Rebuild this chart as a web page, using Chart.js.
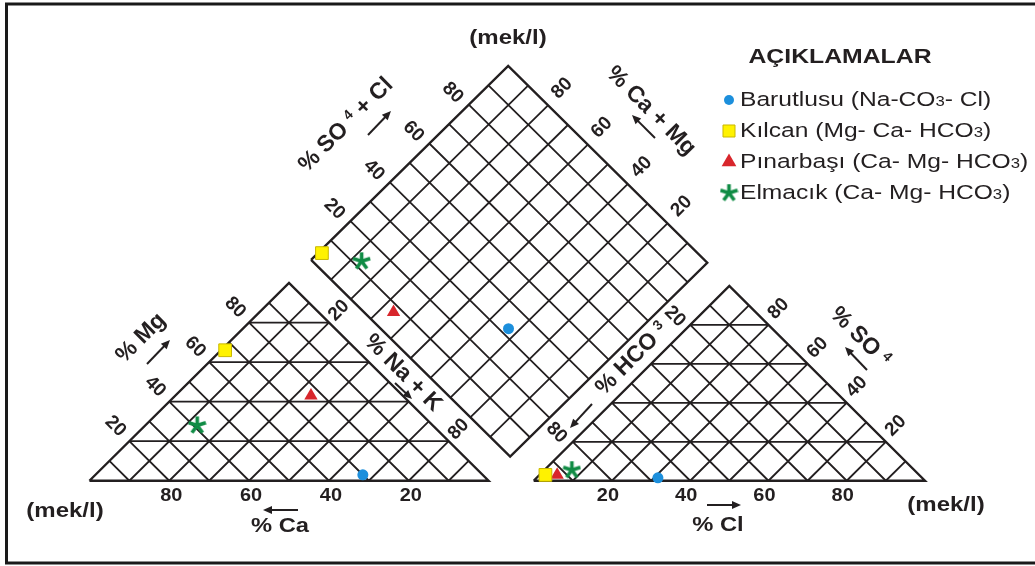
<!DOCTYPE html>
<html>
<head>
<meta charset="utf-8">
<script src="https://cdn.jsdelivr.net/npm/chart.js@4.4.1/dist/chart.umd.min.js"></script>
<style>
  html, body { margin: 0; padding: 0; background: #fff; }
  canvas { display: block; }
</style>
</head>
<body>
<canvas id="piper" width="1035" height="566"></canvas>
<script>
// Piper diagram - sample compositions (% of meq/l)
const samples = ['Barutlusu', 'Kılcan', 'Pınarbaşı', 'Elmacık'];
const waterTypes = ['(Na-CO3- Cl)', '(Mg- Ca- HCO3)', '(Ca- Mg- HCO3)', '(Ca- Mg- HCO3)'];
const caPct = [30, 33, 23, 59];
const mgPct = [3, 66, 43, 28];
const naKPct = [67, 1, 34, 13];
const hco3Pct = [67.5, 95.5, 92.5, 87.5];
const so4Pct = [1.5, 3, 3, 5.5];
const clPct = [31, 1.5, 4.5, 7];
const tickValues = [20, 40, 60, 80];
const sparseTicks = [20, 80];   // Na+K and HCO3 sides only carry the end labels

const ink = '#231f20';
const colors = ['#1c8fdc', '#fff200', '#d8262c', '#108c45'];
const font = "'Liberation Sans', Arial, sans-serif";

// layout of the three fields (pixel units = data units here)
const cation = { x0: 81, x1: 488, base: 488, apex: 283 };
const anion = { x0: 534, x1: 933, base: 488, apex: 286 };
const diamond = { left: [307, 259], top: [508, 58], bottom: [510, 463] };

// a = share that pushes right (Na+K / Cl), b = share that pushes up (Mg / SO4)
function triPt(t, a, b) {
    const w = t.x1 - t.x0, h = t.base - t.apex;
    return { x: t.x0 + w * (a + b / 2) / 100, y: t.base - h * b / 100 };
}
function diaPt(na, sc) {
    const L = diamond.left, T = diamond.top, B = diamond.bottom;
    return {
        x: L[0] + (B[0] - L[0]) * na / 100 + (T[0] - L[0]) * sc / 100,
        y: L[1] + (B[1] - L[1]) * na / 100 + (T[1] - L[1]) * sc / 100
    };
}
const gap = () => ({ x: null, y: null });

function triOutline(t) {
    return [triPt(t, 0, 0), triPt(t, 100, 0), triPt(t, 0, 100), triPt(t, 0, 0)];
}
function triGrid(t) {
    const pts = [];
    for (let i = 10; i < 100; i += 10) {
        pts.push(triPt(t, i, 0), triPt(t, i, 100 - i), gap());
        pts.push(triPt(t, 100 - i, 0), triPt(t, 0, 100 - i), gap());
        if (i % 20 === 0) pts.push(triPt(t, 0, i), triPt(t, 100 - i, i), gap());
    }
    return pts;
}
function diaGrid() {
    const pts = [];
    for (let i = 10; i < 100; i += 10) {
        pts.push(diaPt(i, 0), diaPt(i, 100), gap());
        pts.push(diaPt(0, i), diaPt(100, i), gap());
    }
    return pts;
}
function diaOutline() {
    return [diaPt(0, 0), diaPt(100, 0), diaPt(100, 100), diaPt(0, 100), diaPt(0, 0)];
}

function makeStar(size, color) {
    const c = document.createElement('canvas');
    c.width = size; c.height = size;
    const g = c.getContext('2d');
    g.strokeStyle = color;
    g.lineWidth = size * 0.19;
    const r = size / 2;
    for (let k = 0; k < 5; k++) {
        const a = -Math.PI / 2 + k * 2 * Math.PI / 5;
        g.beginPath();
        g.moveTo(r, r);
        g.lineTo(r + Math.cos(a) * r * 0.95, r + Math.sin(a) * r * 0.95);
        g.stroke();
    }
    return c;
}
const starImg = makeStar(19, colors[3]);

const markerStyles = [
    { pointStyle: 'circle', pointRadius: 5.5, backgroundColor: colors[0], borderColor: colors[0], borderWidth: 0 },
    { pointStyle: 'rect', pointRadius: 9, backgroundColor: colors[1], borderColor: '#c9b800', borderWidth: 1 },
    { pointStyle: 'triangle', pointRadius: 7.7, backgroundColor: colors[2], borderColor: colors[2], borderWidth: 0 },
    { pointStyle: starImg, pointRadius: 9, backgroundColor: colors[3], borderColor: colors[3], borderWidth: 0 }
];

const sampleSets = samples.map((name, i) => ({
    label: name,
    data: [
        triPt(cation, naKPct[i], mgPct[i]),
        triPt(anion, clPct[i], so4Pct[i]),
        diaPt(naKPct[i], so4Pct[i] + clPct[i])
    ],
    showLine: false,
    order: 0,
    ...markerStyles[i]
}));

function lineSet(data, width) {
    return { data, showLine: true, borderColor: ink, borderWidth: width, pointRadius: 0, spanGaps: false, order: 5, fill: false };
}

// ---- text helpers ----
function drawRich(ctx, segs, x, y, rot, size, sx) {
    ctx.save();
    ctx.translate(x, y);
    ctx.rotate(rot * Math.PI / 180);
    ctx.scale(sx || 1, 1);
    let w = 0;
    segs.forEach(s => {
        ctx.font = (s.bold === false ? '' : 'bold ') + (size * (s.k || 1)) + 'px ' + font;
        s.w = ctx.measureText(s.t).width;
        w += s.w;
    });
    let cx = -w / 2;
    ctx.fillStyle = ink;
    ctx.textBaseline = 'middle';
    ctx.textAlign = 'left';
    segs.forEach(s => {
        ctx.font = (s.bold === false ? '' : 'bold ') + (size * (s.k || 1)) + 'px ' + font;
        ctx.fillText(s.t, cx, s.dy || 0);
        cx += s.w;
    });
    ctx.restore();
}
function txt(ctx, t, x, y, rot, size, sx) {
    drawRich(ctx, [{ t }], x, y, rot, size, sx);
}
function arrow(ctx, x1, y1, x2, y2) {
    const a = Math.atan2(y2 - y1, x2 - x1);
    const hl = 9, hw = 4;
    ctx.save();
    ctx.strokeStyle = ink; ctx.fillStyle = ink; ctx.lineWidth = 2;
    ctx.beginPath();
    ctx.moveTo(x1, y1);
    ctx.lineTo(x2 - Math.cos(a) * hl * 0.8, y2 - Math.sin(a) * hl * 0.8);
    ctx.stroke();
    ctx.beginPath();
    ctx.moveTo(x2, y2);
    ctx.lineTo(x2 - Math.cos(a) * hl - Math.sin(a) * hw, y2 - Math.sin(a) * hl + Math.cos(a) * hw);
    ctx.lineTo(x2 - Math.cos(a) * hl + Math.sin(a) * hw, y2 - Math.sin(a) * hl - Math.cos(a) * hw);
    ctx.closePath();
    ctx.fill();
    ctx.restore();
}

const decor = {
    id: 'decor',
    beforeDatasetsDraw(chart) {
        const ctx = chart.ctx;
        ctx.save();
        ctx.strokeStyle = '#1a1a1a';
        ctx.lineWidth = 3;
        ctx.beginPath();
        ctx.moveTo(1040, 4);
        ctx.lineTo(6.5, 4);
        ctx.lineTo(6.5, 563);
        ctx.lineTo(1040, 563);
        ctx.stroke();
        ctx.restore();
    },
    afterDatasetsDraw(chart) {
        const ctx = chart.ctx;
        const xs = chart.scales.x, ys = chart.scales.y;
        const px = p => ({ x: xs.getPixelForValue(p.x), y: ys.getPixelForValue(p.y) });
        const T = 19;

        tickValues.forEach(v => {
            let p = px(triPt(cation, 100 - v, 0));
            txt(ctx, String(v), p.x + 2, p.y + 15, 0, T, 1.05);
            p = px(triPt(cation, 0, v));
            txt(ctx, String(v), p.x - 14, p.y - 15, 45, T, 1);
            p = px(triPt(anion, v, 0));
            txt(ctx, String(v), p.x - 4, p.y + 15, 0, T, 1.05);
            p = px(triPt(anion, 100 - v, v));
            txt(ctx, String(v), p.x + 10, p.y - 16, -45, T, 1);
            p = px(diaPt(0, v));
            txt(ctx, String(v), p.x - 16, p.y - 12, 45, T, 1);
            p = px(diaPt(100 - v, 100));
            txt(ctx, String(v), p.x + 14, p.y - 17, -45, T, 1);
        });
        sparseTicks.forEach(v => {
            let p = px(triPt(cation, v, 100 - v));
            txt(ctx, String(v), p.x + 10, p.y - 12, -45, T, 1);
            p = px(diaPt(100, 100 - v));
            txt(ctx, String(v), p.x + 7, p.y + 15, 45, T, 1);
        });

        const A = 23;
        txt(ctx, '(mek/l)', 508, 38, 0, 20, 1.2);
        txt(ctx, '(mek/l)', 65, 511, 0, 20, 1.2);
        txt(ctx, '(mek/l)', 946, 505, 0, 20, 1.2);

        txt(ctx, '% Mg', 141, 338, -45, A, 1);
        arrow(ctx, 147, 364, 170, 340);
        txt(ctx, '% Ca', 280, 526, 0, 21, 1.13);
        arrow(ctx, 298, 510, 263, 510);
        txt(ctx, '% Na + K', 403, 373, 45, A, 1);
        arrow(ctx, 395, 383, 412, 399);

        drawRich(ctx, [{ t: '% SO ' }, { t: '4', k: 0.6, dy: -5 }, { t: ' + Cl' }], 346, 125, -45, A, 1);
        arrow(ctx, 368, 135, 391, 111);
        drawRich(ctx, [{ t: '% Ca + Mg' }], 651, 111, 45, A, 1);
        arrow(ctx, 655, 138, 632, 115);
        drawRich(ctx, [{ t: '% HCO ' }, { t: '3', k: 0.6, dy: -5 }], 632, 359, -45, A, 1);
        arrow(ctx, 592, 404, 570, 428);
        drawRich(ctx, [{ t: '% SO ' }, { t: '4', k: 0.6, dy: -5 }], 860, 337, 45, A, 1);
        arrow(ctx, 867, 370, 845, 347);
        txt(ctx, '% Cl', 718, 525, 0, 21, 1.13);
        arrow(ctx, 707, 505, 741, 505);

        // legend
        txt(ctx, 'AÇIKLAMALAR', 840, 57, 0, 21, 1.18);
        const rowY = [100, 131, 162, 193];
        samples.forEach((name, i) => {
            const st = markerStyles[i];
            ctx.save();
            ctx.fillStyle = st.backgroundColor;
            ctx.strokeStyle = st.borderColor;
            ctx.lineWidth = st.borderWidth;
            const r = i === 0 ? 5 : i === 1 ? 8.5 : i === 2 ? 8.5 : 9.5;
            Chart.helpers.drawPoint(ctx, { pointStyle: st.pointStyle, radius: r, rotation: 0, borderWidth: st.borderWidth }, 729, rowY[i]);
            ctx.restore();
            const segs = [{ t: name + ' ', bold: false }];
            waterTypes[i].split(/(\d)/).forEach(part => {
                if (!part) return;
                if (/^\d$/.test(part)) segs.push({ t: part, bold: false, k: 0.68, dy: 2 });
                else segs.push({ t: part, bold: false });
            });
            ctx.save();
            let w = 0;
            segs.forEach(s => { ctx.font = (20.5 * (s.k || 1)) + 'px ' + font; w += ctx.measureText(s.t).width; });
            ctx.restore();
            drawRich(ctx, segs, 740 + w * 1.2 / 2, rowY[i], 0, 20.5, 1.2);
        });
    }
};

new Chart(document.getElementById('piper'), {
    type: 'scatter',
    data: {
        datasets: [
            ...sampleSets,
            lineSet(triGrid(cation), 1.8),
            lineSet(triGrid(anion), 1.8),
            lineSet(diaGrid(), 1.8),
            lineSet(triOutline(cation), 2.4),
            lineSet(triOutline(anion), 2.4),
            lineSet(diaOutline(), 2.4)
        ]
    },
    options: {
        responsive: false,
        devicePixelRatio: 1,
        animation: false,
        events: [],
        layout: { padding: 0 },
        plugins: { legend: { display: false }, tooltip: { enabled: false } },
        scales: {
            x: { type: 'linear', min: 0, max: 1035, display: false },
            y: { type: 'linear', min: 0, max: 566, reverse: true, display: false }
        }
    },
    plugins: [decor]
});
</script>
</body>
</html>
